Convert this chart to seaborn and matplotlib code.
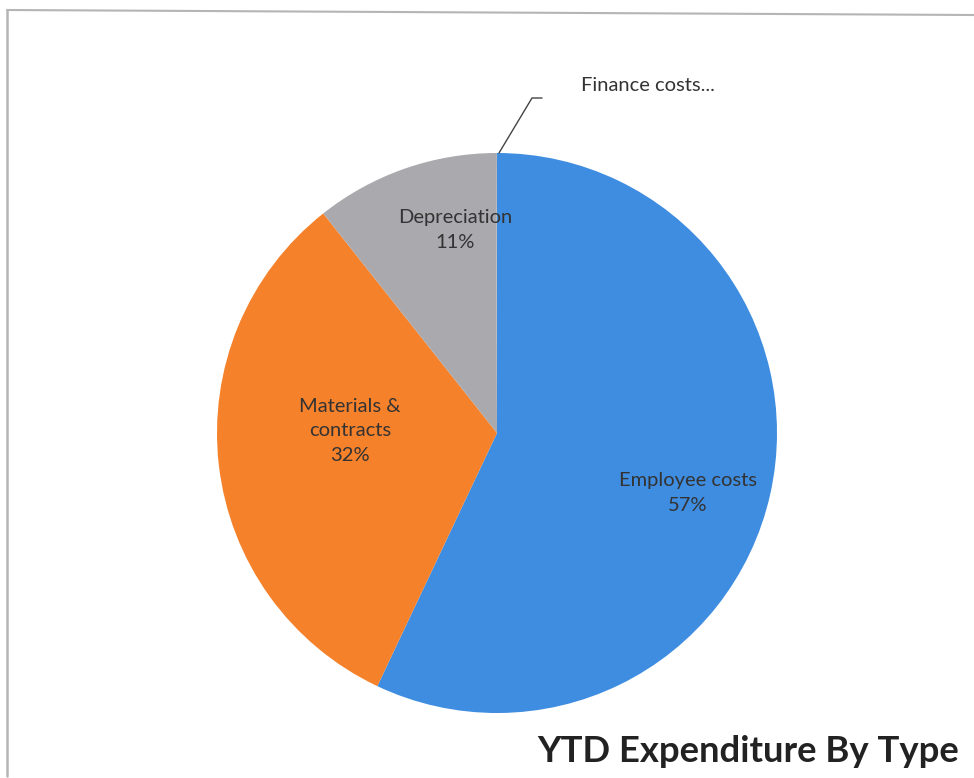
import matplotlib
matplotlib.use("Agg")
import matplotlib.pyplot as plt
import seaborn as sns

categories = ["Employee costs", "Materials &\ncontracts", "Depreciation", "Finance costs..."]
values = [57.0, 32.3, 10.6, 0.05]
pct_labels = ["57%", "32%", "11%", ""]
colors = ["#3f8de0", "#f5812b", "#a9a9ae", "#a9a9ae"]

sns.set_theme(style="white")
plt.rcParams["font.family"] = ["Lato", "DejaVu Sans"]

fig = plt.figure(figsize=(9.74, 7.78), dpi=100)
fig.patch.set_facecolor("white")

# scanned frame
fig.add_artist(plt.Line2D([7/974, 1.0], [1 - 10/778, 1 - 15/778], color="#b5b5b5", lw=1.5))
fig.add_artist(plt.Line2D([6.5/974, 6.5/974], [1 - 10/778, 1 - 776/778], color="#b5b5b5", lw=1.8))

ax = fig.add_axes([(497 - 280) / 974, (778 - 713) / 778, 560 / 974, 560 / 778])
wedges, _ = ax.pie(values, colors=colors, startangle=90, counterclock=False,
                   wedgeprops=dict(linewidth=0), radius=1.0)
ax.set_aspect("equal")
ax.set_xlim(-1, 1)
ax.set_ylim(-1, 1)
ax.axis("off")

def px(x, y):
    return ((x - 497) / 280, (433 - y) / 280)

lab_pos = [(688, 493), (350, 431), (455, 230)]
for i, (x, y) in enumerate(lab_pos):
    ax.text(*px(x, y), f"{categories[i]}\n{pct_labels[i]}", ha="center", va="center",
            fontsize=14.5, color="#333333", linespacing=1.55)

# Finance costs leader line and label
p0 = px(499, 153); p1 = px(532, 98); p2 = px(542, 98)
ax.plot([p0[0], p1[0], p2[0]], [p0[1], p1[1], p2[1]], color="#444444", lw=1.0, clip_on=False)
ax.text(*px(648, 85), categories[3], ha="center", va="center", fontsize=14.5,
        color="#333333", clip_on=False)

fig.text(959 / 974, 1 - 752 / 778, "YTD Expenditure By Type", ha="right", va="center",
         fontsize=26.3, fontweight="bold", color="#222222")

fig.savefig("out.png", dpi=100)
